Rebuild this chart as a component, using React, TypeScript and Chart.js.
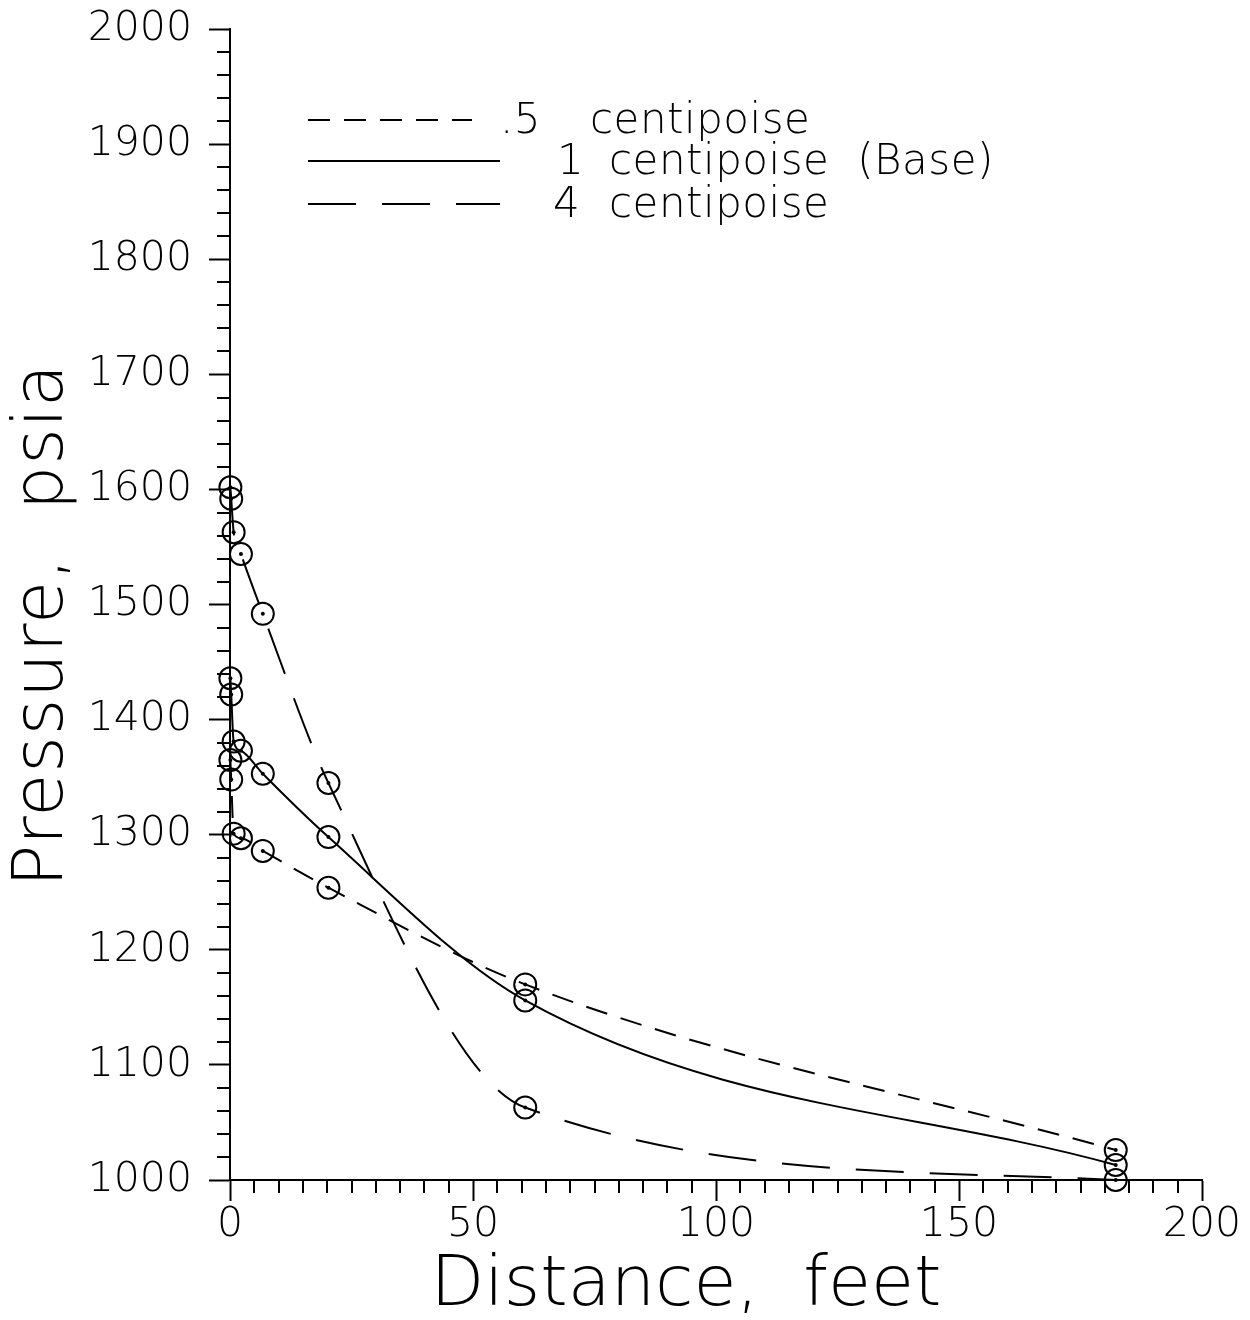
import React, { useEffect, useRef } from "react";
import { Chart, registerables } from "chart.js";

Chart.register(...registerables);

// Distance from well (feet) for each computed point
const distanceFt = [0.08, 0.25, 0.75, 2.25, 6.75, 20.25, 60.75, 182.25];
// Pressure (psia) for each viscosity case
const pressureHalfCp = [1365, 1348, 1301, 1297, 1286, 1254, 1170, 1026];
const pressureOneCp = [1436, 1422, 1381, 1373, 1353, 1298, 1156, 1013];
const pressureFourCp = [1602, 1592, 1563, 1544, 1492, 1345, 1063, 1000];

const seriesNumbers = [".5", "1", "4"];
const seriesTexts = ["centipoise", "centipoise  (Base)", "centipoise"];

const xTitle = "Distance,  feet";
const yTitle = "Pressure,  psia";

const FONT = '"DejaVu Sans", sans-serif';
const DASH_SHORT = [22, 14];
const DASH_LONG = [48, 26];
const dashes = [DASH_SHORT, [], DASH_LONG];

function toPoints(ys: number[]) {
  return distanceFt.map((x, i) => ({ x, y: ys[i] }));
}

const minorTicks = {
  id: "minorTicks",
  afterDraw(chart: any) {
    const { ctx, chartArea } = chart;
    const xs = chart.scales.x;
    const ys = chart.scales.y;
    ctx.save();
    ctx.strokeStyle = "#000";
    ctx.lineWidth = 2;
    ctx.beginPath();
    for (let v = 1000; v <= 2000; v += 20) {
      if (v % 100 === 0) continue;
      const py = Math.round(ys.getPixelForValue(v));
      ctx.moveTo(chartArea.left - 13, py);
      ctx.lineTo(chartArea.left, py);
    }
    for (let v = 0; v <= 200; v += 5) {
      if (v % 50 === 0) continue;
      const px = Math.round(xs.getPixelForValue(v));
      ctx.moveTo(px, chartArea.bottom);
      ctx.lineTo(px, chartArea.bottom + 13);
    }
    ctx.stroke();
    ctx.restore();
  },
};

const annotations = {
  id: "annotations",
  afterDraw(chart: any) {
    const { ctx } = chart;
    ctx.save();
    ctx.fillStyle = "#000";
    ctx.strokeStyle = "#000";
    // legend
    const rowsY = [120, 161, 204];
    const lineEnd = [472, 500, 500];
    const numX = [500, 557, 553];
    const textX = [590, 609, 609];
    ctx.font = `200 42px ${FONT}`;
    (ctx as any).letterSpacing = "0.5px";
    ctx.textBaseline = "middle";
    ctx.textAlign = "left";
    for (let i = 0; i < 3; i++) {
      ctx.lineWidth = 2;
      ctx.setLineDash(dashes[i]);
      ctx.beginPath();
      ctx.moveTo(308, rowsY[i]);
      ctx.lineTo(lineEnd[i], rowsY[i]);
      ctx.stroke();
      ctx.setLineDash([]);
      ctx.fillText(seriesNumbers[i], numX[i], rowsY[i] + 2);
      ctx.fillText(seriesTexts[i], textX[i], rowsY[i] + 2);
    }
    // axis titles
    ctx.font = `200 70px ${FONT}`;
    ctx.textAlign = "center";
    ctx.textBaseline = "alphabetic";
    (ctx as any).letterSpacing = "0px";
    ctx.fillText(xTitle, 686, 1305);
    (ctx as any).letterSpacing = "1px";
    ctx.save();
    ctx.translate(62, 625);
    ctx.rotate(-Math.PI / 2);
    ctx.fillText(yTitle, 0, 0);
    ctx.restore();
    ctx.restore();
  },
};

export default function App() {
  const ref = useRef<HTMLCanvasElement>(null);
  useEffect(() => {
    document.body.style.margin = "0";
    const canvas = ref.current!;
    const lineSets = [pressureHalfCp, pressureOneCp, pressureFourCp].map((ys, i) => ({
      data: toPoints(ys),
      showLine: true,
      borderColor: "#000",
      borderWidth: 2,
      borderDash: dashes[i],
      cubicInterpolationMode: "monotone" as const,
      pointStyle: "circle" as const,
      pointRadius: 11,
      pointBorderWidth: 2,
      pointBorderColor: "#000",
      pointBackgroundColor: "rgba(0,0,0,0)",
      clip: false as any,
    }));
    const dotSets = [pressureHalfCp, pressureOneCp, pressureFourCp].map((ys) => ({
      data: toPoints(ys),
      showLine: false,
      pointRadius: 2,
      pointBorderWidth: 0,
      pointBackgroundColor: "#000",
      clip: false as any,
    }));
    const xTickFont = { family: FONT, size: 41, weight: "200" as any };
    const yTickFont = { family: FONT, size: 41, weight: "200" as any, lineHeight: 0.6 };
    const chart = new Chart(canvas, {
      type: "scatter",
      data: { datasets: [...lineSets, ...dotSets] as any },
      plugins: [minorTicks, annotations],
      options: {
        animation: false,
        responsive: false,
        layout: { padding: { top: 25, right: 48, left: 0, bottom: 0 } },
        plugins: { legend: { display: false }, tooltip: { enabled: false } },
        scales: {
          x: {
            type: "linear",
            min: 0,
            max: 200,
            afterFit: (s: any) => {
              s.height = 140;
            },
            ticks: {
              stepSize: 50,
              color: "#000",
              padding: 0,
              font: xTickFont,
              callback: (v: any) => String(v),
            },
            grid: {
              drawOnChartArea: false,
              drawTicks: true,
              tickLength: 21,
              tickWidth: 2,
              tickColor: "#000",
            },
            border: { display: true, color: "#000", width: 2 },
          },
          y: {
            type: "linear",
            min: 1000,
            max: 2000,
            afterFit: (s: any) => {
              s.width = 230;
            },
            ticks: {
              stepSize: 100,
              color: "#000",
              padding: 17,
              font: yTickFont,
              callback: (v: any) => String(v),
            },
            grid: {
              drawOnChartArea: false,
              drawTicks: true,
              tickLength: 21,
              tickWidth: 2,
              tickColor: "#000",
            },
            border: { display: true, color: "#000", width: 2 },
          },
        },
      },
    });
    return () => chart.destroy();
  }, []);
  return (
    <div style={{ width: 1250, height: 1320, background: "#fff" }}>
      <canvas ref={ref} width={1250} height={1320} style={{ display: "block" }} />
    </div>
  );
}
